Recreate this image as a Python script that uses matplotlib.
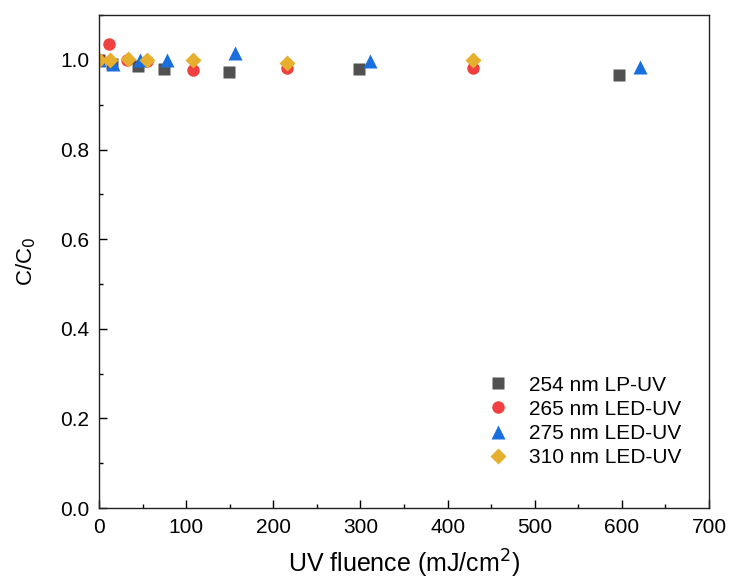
import numpy as np
import matplotlib.pyplot as plt
from matplotlib.ticker import MultipleLocator

plt.rcParams['font.family'] = ['Liberation Sans', 'DejaVu Sans']

# UV fluence (mJ/cm2) and normalised concentration for each lamp
x_254 = [0, 15, 45, 75, 149, 298, 597]
y_254 = [1.0, 0.991, 0.987, 0.980, 0.973, 0.980, 0.967]

x_265 = [0, 11, 32, 55, 108, 216, 429]
y_265 = [1.0, 1.035, 1.0, 0.998, 0.978, 0.983, 0.982]

x_275 = [0, 16, 47, 78, 156, 311, 621]
y_275 = [1.0, 0.990, 1.0, 1.0, 1.015, 0.998, 0.985]

x_310 = [0, 12, 33, 55, 108, 216, 429]
y_310 = [1.0, 1.0, 1.002, 1.0, 0.999, 0.993, 0.999]

labels = ['254 nm LP-UV', '265 nm LED-UV', '275 nm LED-UV', '310 nm LED-UV']

fig = plt.figure(figsize=(7.34, 5.80), dpi=100)
ax = fig.add_axes([0.135, 0.124, 0.831, 0.850])

ax.plot(x_254, y_254, 's', color='#515151', ms=8, mec='none', label=labels[0])
ax.plot(x_265, y_265, 'o', color='#F14040', ms=9, mec='none', label=labels[1])
ax.plot(x_275, y_275, '^', color='#1A6FDF', ms=10, mec='none', label=labels[2])
ax.plot(x_310, y_310, 'D', color='#E6AF2E', ms=8, mec='none', label=labels[3])

ax.set_xlim(0, 700)
ax.set_ylim(0, 1.1)
ax.xaxis.set_major_locator(MultipleLocator(100))
ax.xaxis.set_minor_locator(MultipleLocator(50))
ax.yaxis.set_major_locator(MultipleLocator(0.2))
ax.yaxis.set_minor_locator(MultipleLocator(0.1))
ax.yaxis.set_major_formatter(plt.FormatStrFormatter('%.1f'))
ax.tick_params(which='both', direction='in', labelsize=15, width=1)
ax.tick_params(which='major', length=6, pad=7)
ax.tick_params(which='minor', length=3)
for sp in ax.spines.values():
    sp.set_linewidth(1)
    sp.set_color('#222222')

ax.set_xlabel('UV fluence (mJ/cm$^2$)', fontsize=18, labelpad=8)
ax.set_ylabel('C/C$_0$', fontsize=16, labelpad=16)

ax.legend(loc='lower right', frameon=False, fontsize=15, handletextpad=0.5,
          labelspacing=0.25, bbox_to_anchor=(0.985, 0.045))

fig.savefig('out.png', dpi=100)
